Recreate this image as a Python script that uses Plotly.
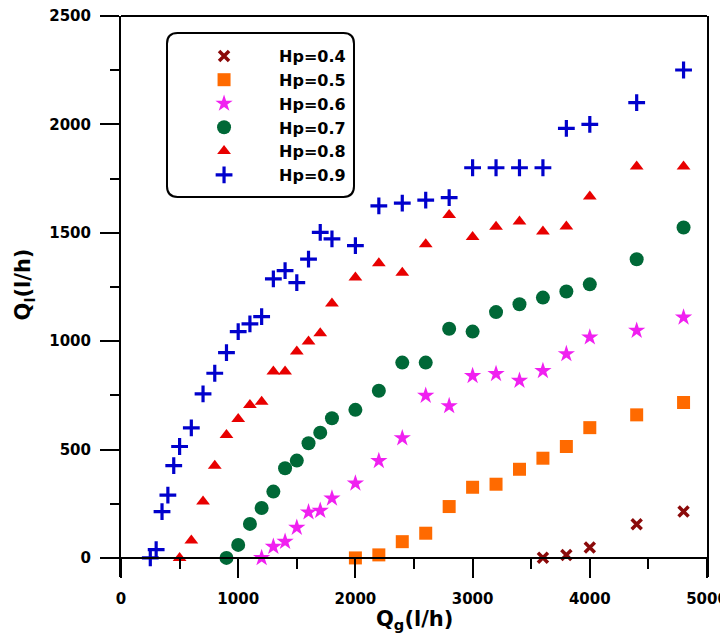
import plotly.graph_objects as go

# ---- data ----
x_04 = [3600, 3800, 4000, 4400, 4800]
y_04 = [1, 14, 48, 155, 214]

x_05 = [2000, 2200, 2400, 2600, 2800, 3000, 3200, 3400, 3600, 3800, 4000, 4400, 4800]
y_05 = [0, 14, 75, 114, 237, 326, 340, 409, 460, 514, 601, 660, 717]

x_06 = [1200, 1300, 1400, 1500, 1600, 1700, 1800, 2000, 2200, 2400, 2600, 2800,
        3000, 3200, 3400, 3600, 3800, 4000, 4400, 4800]
y_06 = [0, 52, 75, 140, 211, 218, 275, 344, 448, 553, 749, 701,
        840, 849, 818, 863, 941, 1018, 1049, 1110]

x_07 = [900, 1000, 1100, 1200, 1300, 1400, 1500, 1600, 1700, 1800, 2000, 2200, 2400,
        2600, 2800, 3000, 3200, 3400, 3600, 3800, 4000, 4400, 4800]
y_07 = [0, 60, 157, 230, 306, 414, 449, 529, 578, 644, 683, 771, 901,
        901, 1057, 1044, 1134, 1170, 1201, 1229, 1262, 1378, 1524]

x_08 = [500, 600, 700, 800, 900, 1000, 1100, 1200, 1300, 1400, 1500, 1600, 1700, 1800,
        2000, 2200, 2400, 2600, 2800, 3000, 3200, 3400, 3600, 3800, 4000, 4400, 4800]
y_08 = [0, 80, 260, 425, 567, 641, 706, 721, 860, 860, 952, 998, 1036, 1174,
        1294, 1359, 1316, 1447, 1582, 1480, 1528, 1552, 1506, 1529, 1667, 1806, 1806]

x_09 = [250, 300, 350, 400, 450, 500, 600, 700, 800, 900, 1000, 1100, 1200, 1300, 1400,
        1500, 1600, 1700, 1800, 2000, 2200, 2400, 2600, 2800, 3000, 3200, 3400, 3600,
        3800, 4000, 4400, 4800]
y_09 = [0, 38, 214, 290, 426, 514, 600, 757, 852, 947, 1044, 1080, 1113, 1287, 1325,
        1270, 1378, 1502, 1472, 1441, 1624, 1637, 1651, 1662, 1800, 1800, 1800, 1800,
        1982, 2000, 2100, 2251]

series_names = ["Hp=0.4", "Hp=0.5", "Hp=0.6", "Hp=0.7", "Hp=0.8", "Hp=0.9"]

x_ticks = [0, 1000, 2000, 3000, 4000, 5000]
y_ticks = [0, 500, 1000, 1500, 2000, 2500]

FONT = "DejaVu Sans"

fig = go.Figure()

styles = [
    (x_04, y_04, dict(symbol="x-thin", size=10, color="#8B0A0A", line=dict(color="#8B0A0A", width=3.5))),
    (x_05, y_05, dict(symbol="square", size=13, color="#FF6A00", line=dict(width=0))),
    (x_06, y_06, dict(symbol="star", size=13, color="#F020F0", line=dict(width=0))),
    (x_07, y_07, dict(symbol="circle", size=14, color="#006837", line=dict(width=0))),
    (x_08, y_08, dict(symbol="triangle-up", size=12, color="#E80000", line=dict(width=0))),
    (x_09, y_09, dict(symbol="cross-thin", size=12, color="#0000CC", line=dict(color="#0000CC", width=3.2))),
]
for name, (xs, ys, mk) in zip(series_names, styles):
    fig.add_trace(go.Scatter(x=xs, y=ys, mode="markers", name=name, marker=mk))

Y_MIN = -88
Y_MAX = 2500
zero_pos = (0 - Y_MIN) / (Y_MAX - Y_MIN)

# page body adds an 8px offset; the figure is sized to fit the 728x636 view
fig.update_layout(
    width=720, height=628,
    margin=dict(l=113, r=21, t=8, b=59, autoexpand=False),
    plot_bgcolor="white", paper_bgcolor="white",
    font=dict(family=FONT, color="black"),
    xaxis=dict(
        range=[0, 5000], tickvals=x_ticks, ticktext=[str(v) for v in x_ticks],
        showgrid=False, zeroline=False, automargin=False,
        showline=True, linecolor="black", linewidth=2,
        ticks="outside", ticklen=19, tickwidth=2, tickcolor="black",
        minor=dict(dtick=500, ticks="outside", ticklen=10, tickwidth=2, tickcolor="black", showgrid=False),
        anchor="free", position=zero_pos,
        tickfont=dict(family=FONT, size=15, color="black", weight="bold"),
        ticklabelstandoff=8, ticklabeloverflow="allow",
    ),
    yaxis=dict(
        range=[Y_MIN, Y_MAX], tickvals=y_ticks, ticktext=[str(v) for v in y_ticks],
        showgrid=False, zeroline=False, automargin=False,
        showline=True, linecolor="black", linewidth=2, mirror=True,
        ticks="outside", ticklen=19, tickwidth=2, tickcolor="black",
        minor=dict(dtick=250, ticks="outside", ticklen=9, tickwidth=2, tickcolor="black", showgrid=False),
        tickfont=dict(family=FONT, size=15, color="black", weight="bold"),
        ticklabelstandoff=6, ticklabeloverflow="allow",
    ),
    legend=dict(
        x=0.082, y=0.959, xanchor="left", yanchor="top",
        bgcolor="rgba(0,0,0,0)", borderwidth=0,
        font=dict(family=FONT, size=16, color="black", weight="bold"),
        itemwidth=100,
    ),
    showlegend=True,
)

# axis titles
fig.add_annotation(text="Q<sub>g</sub>(l/h)", xref="paper", yref="paper",
                   x=0.5, y=-0.0766, xanchor="center", yanchor="middle", showarrow=False,
                   font=dict(family=FONT, size=21, color="black", weight="bold"))
fig.add_annotation(text="Q<sub>l</sub>(l/h)", xref="paper", yref="paper",
                   x=-0.165, y=0.522, xanchor="center", yanchor="middle", showarrow=False,
                   textangle=-90,
                   font=dict(family=FONT, size=21, color="black", weight="bold"))

# top frame line
fig.add_shape(type="line", xref="paper", yref="paper", x0=0, x1=1, y0=1, y1=1,
              line=dict(color="black", width=2))

# rounded legend box
x0, x1 = 0.0785, 0.3976
y0, y1 = 0.6774, 0.9697
rx, ry = 0.018, 0.019
path = (f"M {x0+rx},{y1} L {x1-rx},{y1} Q {x1},{y1} {x1},{y1-ry} "
        f"L {x1},{y0+ry} Q {x1},{y0} {x1-rx},{y0} "
        f"L {x0+rx},{y0} Q {x0},{y0} {x0},{y0+ry} "
        f"L {x0},{y1-ry} Q {x0},{y1} {x0+rx},{y1} Z")
fig.add_shape(type="path", xref="paper", yref="paper", path=path,
              line=dict(color="black", width=2), fillcolor="rgba(0,0,0,0)")

fig.write_html("out.html")
